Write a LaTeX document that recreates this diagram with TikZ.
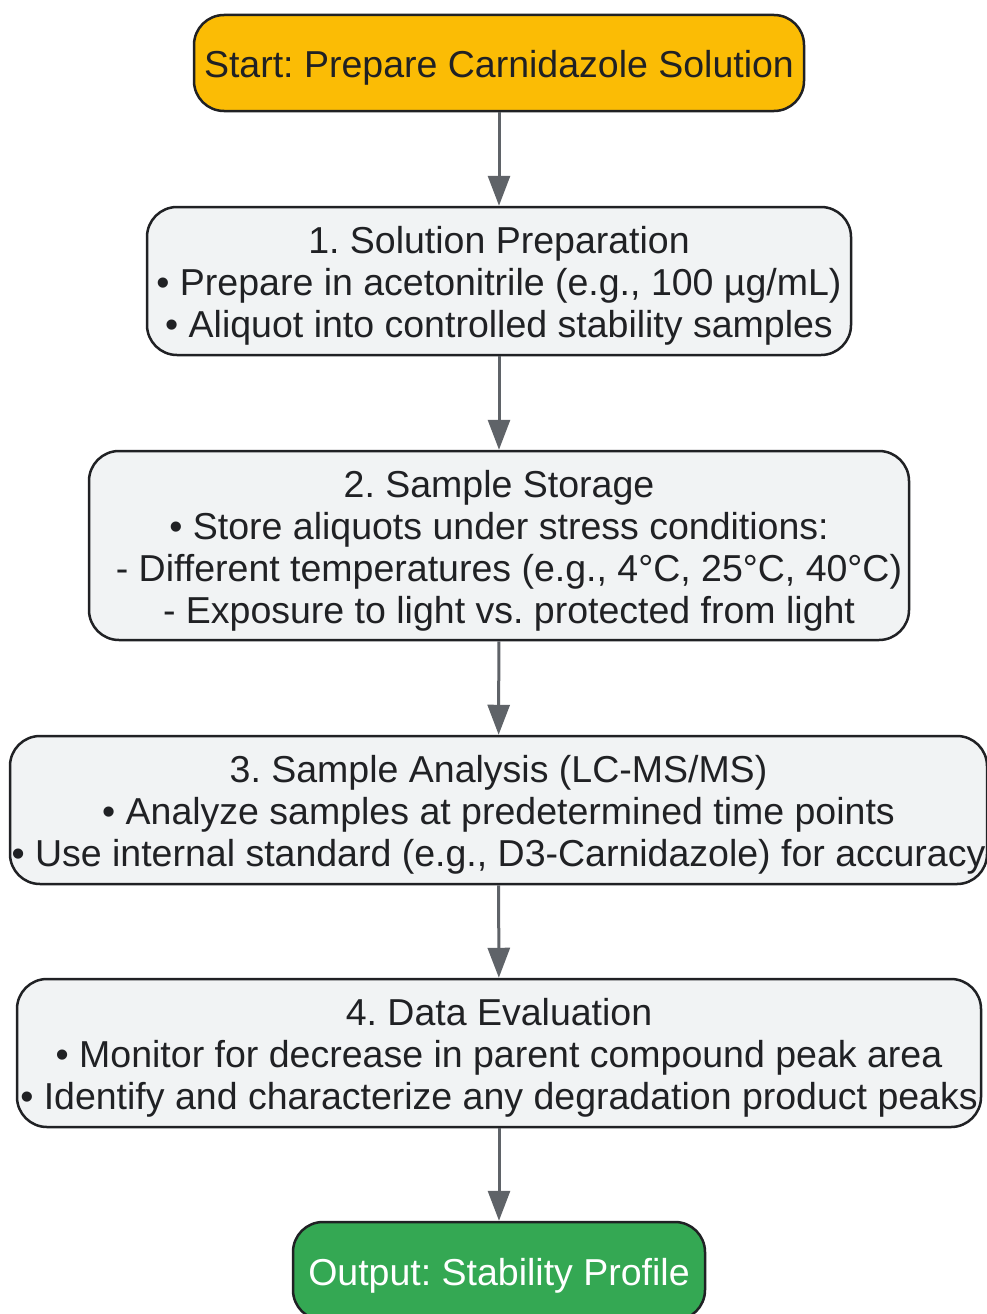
\documentclass[tikz,border=0pt]{standalone}
\usepackage{fontspec}
\setmainfont{Liberation Sans}
\usetikzlibrary{arrows.meta}
\definecolor{amber}{HTML}{FBBC05}
\definecolor{gbox}{HTML}{F1F3F4}
\definecolor{ggreen}{HTML}{34A853}
\definecolor{edge}{HTML}{202124}
\definecolor{arr}{HTML}{5F6368}
\tikzset{
  box/.style={draw=edge, line width=2.5pt, rounded corners=30pt, fill=gbox, inner sep=0pt},
  txt/.style={text=edge, align=center, inner sep=0pt, yshift=-5pt,
    font=\frenchspacing\fontsize{37.5pt}{42pt}\selectfont},
  conn/.style={draw=arr, line width=3pt, -{Triangle[length=30pt,width=22pt]}}
}
\begin{document}
\begin{tikzpicture}[x=1pt,y=-1pt]
\useasboundingbox (0,0) rectangle (987,1314);
\node[box, fill=amber, minimum width=610pt, minimum height=96pt] (start) at (499,63) {};
\node[txt] (startT) at (start.center) {Start: Prepare Carnidazole Solution};
\node[box, minimum width=704pt, minimum height=148pt] (s1) at (499,281) {};
\node[txt] (s1T) at (s1.center)
  {1. Solution Preparation\\• Prepare in acetonitrile (e.g., 100 µg/mL)\\• Aliquot into controlled stability samples};
\node[box, minimum width=820pt, minimum height=189pt] (s2) at (499,545.5) {};
\node[txt] (s2T) at (s2.center)
  {2. Sample Storage\\• Store aliquots under stress conditions:\\\hspace*{20pt}- Different temperatures (e.g., 4°C, 25°C, 40°C)\\\hspace*{20pt}- Exposure to light vs. protected from light};
\node[box, minimum width=977pt, minimum height=148pt] (s3) at (498.5,810) {};
\node[txt] (s3T) at (s3.center)
  {3. Sample Analysis (LC-MS/MS)\\• Analyze samples at predetermined time points\\• Use internal standard (e.g., D3-Carnidazole) for accuracy};
\node[box, minimum width=964pt, minimum height=148pt] (s4) at (499,1053) {};
\node[txt] (s4T) at (s4.center)
  {4. Data Evaluation\\• Monitor for decrease in parent compound peak area\\• Identify and characterize any degradation product peaks};
\node[box, fill=ggreen, minimum width=412pt, minimum height=98pt] (out) at (499,1271) {};
\node[txt, text=white] (outT) at (out.center) {Output: Stability Profile};
\draw[conn] (start) -- (s1);
\draw[conn] (s1) -- (s2);
\draw[conn] (s2) -- (s3);
\draw[conn] (s3) -- (s4);
\draw[conn] (s4) -- (out);
\end{tikzpicture}
\end{document}
